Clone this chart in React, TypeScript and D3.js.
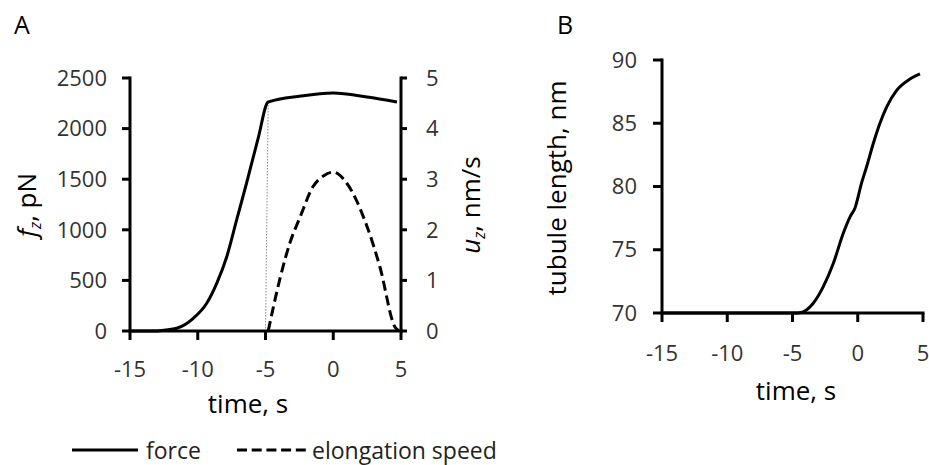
import React from "react";
import * as d3 from "d3";

// Panel A: force (left axis) and elongation speed (right axis)
const forceTime = [-15, -13, -12.79, -11.55, -10.33, -9.34, -8.6, -7.86, -7.13, -6.4, -5.55, -4.8, -2.4, 0, 2.5, 4.7];
const forceValue = [0, 0, 3, 27, 125, 274, 471, 734, 1097, 1460, 1900, 2263, 2322, 2352, 2312, 2263];
const speedTime = [-4.8, -3.9, -3.2, -2.45, -1.5, -0.7, 0, 1.0, 2.5, 3.45, 4.55, 4.85];
const speedValue = [0, 1.07, 1.74, 2.25, 2.85, 3.07, 3.14, 2.92, 2.06, 1.26, 0.08, 0];
const guideTime = [-4.8, -5];
const guideForce = [2263, 0];

// Panel B: tubule length
const lengthTime = [-15, -4.8, -4.43, -3.41, -2.64, -1.87, -1.11, -0.59, -0.21, 0.3, 0.69, 1.19, 1.7, 2.22, 2.98, 4.0, 4.77];
const lengthValue = [70, 70, 70.02, 70.77, 72.08, 73.93, 76.3, 77.6, 78.3, 80.3, 81.6, 83.4, 85.0, 86.3, 87.6, 88.5, 88.9];

const timeTicks = [-15, -10, -5, 0, 5];
const forceTicks = [0, 500, 1000, 1500, 2000, 2500];
const speedTicks = [0, 1, 2, 3, 4, 5];
const lengthTicks = [70, 75, 80, 85, 90];

const FONT = "'Open Sans', sans-serif";

export default function App() {
  const xA = d3.scaleLinear().domain([-15, 5]).range([130, 401]);
  const yF = d3.scaleLinear().domain([0, 2500]).range([331, 78]);
  const yU = d3.scaleLinear().domain([0, 5]).range([331, 78]);
  const xB = d3.scaleLinear().domain([-15, 5]).range([662, 923]);
  const yL = d3.scaleLinear().domain([70, 90]).range([313, 60]);

  const forceLine = d3
    .line<number>()
    .x((_, i) => xA(forceTime[i]))
    .y((d) => yF(d))
    .curve(d3.curveMonotoneX);
  const speedLine = d3
    .line<number>()
    .x((_, i) => xA(speedTime[i]))
    .y((d) => yU(d))
    .curve(d3.curveMonotoneX);
  const guideLine = d3
    .line<number>()
    .x((_, i) => xA(guideTime[i]))
    .y((d) => yF(d));
  const lengthLine = d3
    .line<number>()
    .x((_, i) => xB(lengthTime[i]))
    .y((d) => yL(d))
    .curve(d3.curveMonotoneX);

  const tickFont = 22;
  const titleFont = 26;

  return (
    <svg
      width={929}
      height={465}
      style={{ position: "absolute", left: 0, top: 0, background: "#fff" }}
      fontFamily={FONT}
    >
      <rect x={0} y={0} width={929} height={465} fill="#fff" />
      {/* Panel letters */}
      <text x={14} y={34} fontSize={25} fill="#000">A</text>
      <text x={557} y={34} fontSize={25} fill="#000">B</text>

      {/* Panel A data */}
      <path d={guideLine(guideForce) || ""} fill="none" stroke="#888" strokeWidth={1} strokeDasharray="1.5,1.5" />
      <path d={forceLine(forceValue) || ""} fill="none" stroke="#000" strokeWidth={3} />
      <path d={speedLine(speedValue) || ""} fill="none" stroke="#000" strokeWidth={3} strokeDasharray="10,5" />

      {/* Panel A axes */}
      <g stroke="#000" strokeWidth={3} fill="none">
        <line x1={xA(-15)} x2={xA(-15)} y1={yF(2500) - 1.5} y2={yF(0)} />
        <line x1={xA(5)} x2={xA(5)} y1={yU(5) - 1.5} y2={yU(0)} />
        <line x1={xA(-15) - 1.5} x2={xA(5) + 1.5} y1={yF(0)} y2={yF(0)} />
        {forceTicks.map((t) => (
          <line key={"fl" + t} x1={xA(-15) - 8} x2={xA(-15)} y1={yF(t)} y2={yF(t)} />
        ))}
        {speedTicks.map((t) => (
          <line key={"ul" + t} x1={xA(5)} x2={xA(5) + 6} y1={yU(t)} y2={yU(t)} />
        ))}
        {timeTicks.map((t) => (
          <line key={"xl" + t} x1={xA(t)} x2={xA(t)} y1={yF(0)} y2={yF(0) + 9} />
        ))}
      </g>
      <g fontSize={tickFont} fill="#333">
        {forceTicks.map((t) => (
          <text key={"ft" + t} x={107} y={yF(t)} dy="0.35em" textAnchor="end">{t}</text>
        ))}
        {speedTicks.map((t) => (
          <text key={"ut" + t} x={426} y={yU(t)} dy="0.35em" textAnchor="start">{t}</text>
        ))}
        {timeTicks.map((t) => (
          <text key={"xt" + t} x={xA(t)} y={377} textAnchor="middle">{t}</text>
        ))}
      </g>
      <text x={248} y={413} fontSize={titleFont} textAnchor="middle" fill="#000">time, s</text>
      <text transform="translate(36,205) rotate(-90)" fontSize={titleFont} textAnchor="middle" fill="#000">
        <tspan fontStyle="italic">f</tspan>
        <tspan fontStyle="italic" fontSize={16} dy={5}>z</tspan>
        <tspan dy={-5}>, pN</tspan>
      </text>
      <text transform="translate(480,205) rotate(-90)" fontSize={titleFont} textAnchor="middle" fill="#000">
        <tspan fontStyle="italic">u</tspan>
        <tspan fontStyle="italic" fontSize={16} dy={5}>z</tspan>
        <tspan dy={-5}>, nm/s</tspan>
      </text>

      {/* Panel B data */}
      <path d={lengthLine(lengthValue) || ""} fill="none" stroke="#000" strokeWidth={3} />

      {/* Panel B axes */}
      <g stroke="#000" strokeWidth={3} fill="none">
        <line x1={xB(-15)} x2={xB(-15)} y1={yL(90) - 1.5} y2={yL(70)} />
        <line x1={xB(-15) - 1.5} x2={xB(5) + 1.5} y1={yL(70)} y2={yL(70)} />
        {lengthTicks.map((t) => (
          <line key={"ll" + t} x1={xB(-15) - 9} x2={xB(-15)} y1={yL(t)} y2={yL(t)} />
        ))}
        {timeTicks.map((t) => (
          <line key={"bx" + t} x1={xB(t)} x2={xB(t)} y1={yL(70)} y2={yL(70) + 9} />
        ))}
      </g>
      <g fontSize={tickFont} fill="#333">
        {lengthTicks.map((t) => (
          <text key={"lt" + t} x={637} y={yL(t)} dy="0.35em" textAnchor="end">{t}</text>
        ))}
        {timeTicks.map((t) => (
          <text key={"bt" + t} x={xB(t)} y={361} textAnchor="middle">{t}</text>
        ))}
      </g>
      <text x={796} y={400} fontSize={titleFont} textAnchor="middle" fill="#000">time, s</text>
      <text transform="translate(566,188) rotate(-90)" fontSize={titleFont} textAnchor="middle" fill="#000">
        tubule length, nm
      </text>

      {/* Legend */}
      <line x1={72} x2={138} y1={450} y2={450} stroke="#000" strokeWidth={3} />
      <text x={146} y={459} fontSize={23} fill="#222">force</text>
      <line x1={237} x2={306} y1={450} y2={450} stroke="#000" strokeWidth={3} strokeDasharray="10,4.7" />
      <text x={312} y={459} fontSize={23} fill="#222">elongation speed</text>
    </svg>
  );
}
